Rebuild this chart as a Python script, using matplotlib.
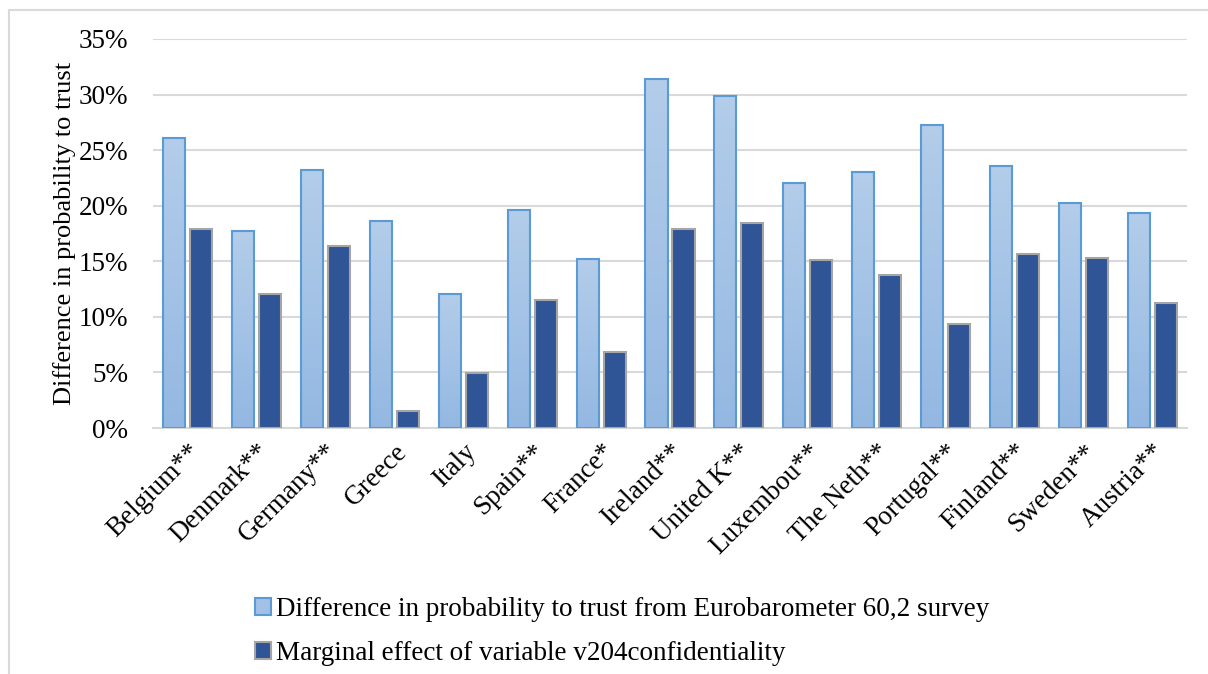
import numpy as np
import matplotlib
matplotlib.use('Agg')
import matplotlib.pyplot as plt
from matplotlib.patches import Rectangle, Patch
from matplotlib.ticker import MultipleLocator, PercentFormatter

# countries (stars = significance)
countries = ['Belgium**', 'Denmark**', 'Germany**', 'Greece', 'Italy', 'Spain**',
             'France*', 'Ireland**', 'United K**', 'Luxembou**', 'The Neth**',
             'Portugal**', 'Finland**', 'Sweden**', 'Austria**']

# difference in probability to trust, Eurobarometer 60.2 (%)
eurobarometer = [26.1, 17.7, 23.2, 18.6, 12.1, 19.6, 15.2, 31.4, 29.9, 22.0,
                 23.0, 27.3, 23.6, 20.2, 19.3]

# marginal effect of v204confidentiality (%)
marginal = [17.9, 12.1, 16.4, 1.5, 4.95, 11.5, 6.8, 17.9, 18.4, 15.1,
            13.8, 9.4, 15.7, 15.3, 11.25]

label1 = 'Difference in probability to trust from Eurobarometer 60,2 survey'
label2 = 'Marginal effect of variable v204confidentiality'

plt.rcParams['font.family'] = ['Liberation Serif', 'DejaVu Serif']
FS = 19.5

fig = plt.figure(figsize=(12.08, 6.74), dpi=100)
ax = fig.add_axes([153 / 1208, 1 - 428 / 674, (1187 - 153) / 1208, (428 - 39) / 674])

# thin grey frame round the chart
fig.patches.append(Rectangle((9 / 1208, -0.1), 1.2, 1 - 10 / 674 + 0.1,
                             transform=fig.transFigure, fill=False,
                             edgecolor='#D9D9D9', linewidth=1.5, zorder=0))

x = np.arange(len(countries))
w = 0.32
off = 0.196

light = ax.bar(x - off, eurobarometer, w, color='#A3C0E5', edgecolor='#5B9BD5',
               linewidth=1.5, zorder=3)
dark = ax.bar(x + off, marginal, w, color='#2F5597', edgecolor='#A5A5A5',
              linewidth=1.5, zorder=3)

# soft vertical gradient in the light bars
grad = np.linspace(0, 1, 256).reshape(-1, 1)
cmap = matplotlib.colors.LinearSegmentedColormap.from_list('g', ['#94B8E2', '#B3CDEA'])
for b in light:
    bx, by = b.get_x(), b.get_y()
    bw, bh = b.get_width(), b.get_height()
    im = ax.imshow(grad, cmap=cmap, origin='lower', aspect='auto',
                   extent=(bx, bx + bw, by, by + bh), zorder=3.5)
    im.set_clip_path(b)
    b.set_facecolor('none')
    b.set_zorder(4)

ax.set_xlim(-0.5, len(countries) - 0.5)
ax.set_ylim(0, 35)
ax.yaxis.set_major_locator(MultipleLocator(5))
ax.yaxis.set_major_formatter(PercentFormatter(decimals=0))
ax.grid(axis='y', color='#D9D9D9', linewidth=1.5, zorder=0)
ax.set_axisbelow(True)
for s in ['top', 'right', 'left']:
    ax.spines[s].set_visible(False)
ax.spines['bottom'].set_color('#D9D9D9')
ax.spines['bottom'].set_linewidth(1.5)
ax.tick_params(axis='both', length=0, labelsize=FS)
ax.tick_params(axis='y', pad=18)

ax.set_xticks(x)
ax.set_xticklabels(countries, rotation=45, ha='right', rotation_mode='anchor')
ax.tick_params(axis='x', pad=8)

ax.set_ylabel('Difference in probability to trust', fontsize=19, labelpad=2)

handles = [Patch(facecolor='#A3C0E5', edgecolor='#5B9BD5', linewidth=1.5, label=label1),
           Patch(facecolor='#2F5597', edgecolor='#A5A5A5', linewidth=1.5, label=label2)]
fig.legend(handles=handles, loc='upper left', bbox_to_anchor=(244 / 1208, 1 - 586 / 674),
           frameon=False, fontsize=FS, handlelength=0.6, handleheight=0.6,
           handletextpad=0.2, labelspacing=0.7, borderaxespad=0)

fig.savefig('out.png', dpi=100)
